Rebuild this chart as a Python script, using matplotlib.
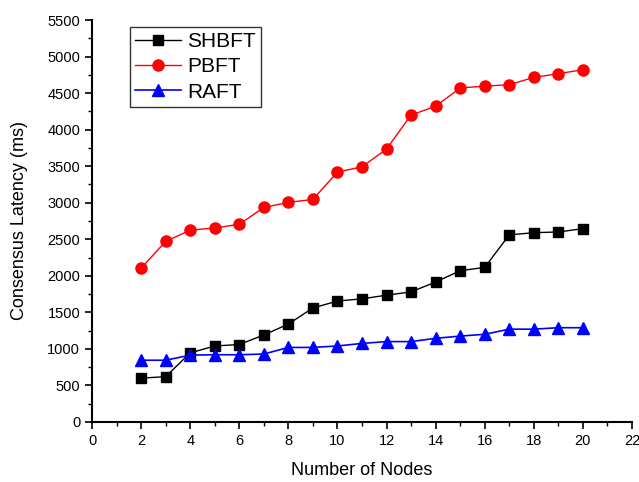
import matplotlib
matplotlib.use('Agg')
import matplotlib.pyplot as plt
from matplotlib.ticker import MultipleLocator

plt.rcParams['font.family'] = ['Liberation Sans', 'DejaVu Sans']

nodes = [2, 3, 4, 5, 6, 7, 8, 9, 10, 11, 12, 13, 14, 15, 16, 17, 18, 19, 20]
shbft = [600, 620, 945, 1040, 1060, 1190, 1340, 1560, 1655, 1685, 1735, 1780, 1915, 2070, 2115, 2560, 2590, 2600, 2645]
pbft = [2105, 2470, 2625, 2655, 2705, 2935, 3005, 3045, 3420, 3490, 3735, 4200, 4320, 4570, 4595, 4615, 4715, 4765, 4820]
raft = [845, 845, 915, 920, 920, 930, 1020, 1020, 1040, 1075, 1100, 1100, 1145, 1175, 1200, 1270, 1270, 1290, 1290]

fig = plt.figure(figsize=(6.39, 4.82), dpi=100)
ax = fig.add_axes([0.144, 0.1245, 0.845, 0.834])

ax.plot(nodes, shbft, color='black', marker='s', markersize=6.5, linewidth=1, label='SHBFT')
ax.plot(nodes, pbft, color='red', marker='o', markersize=8, linewidth=1, label='PBFT')
ax.plot(nodes, raft, color='blue', marker='^', markersize=8, linewidth=1.2, label='RAFT')

ax.set_xlim(0, 22)
ax.set_ylim(0, 5500)
ax.xaxis.set_major_locator(MultipleLocator(2))
ax.xaxis.set_minor_locator(MultipleLocator(1))
ax.yaxis.set_major_locator(MultipleLocator(500))
ax.yaxis.set_minor_locator(MultipleLocator(250))
ax.spines['top'].set_visible(False)
ax.spines['right'].set_visible(False)
ax.spines['left'].set_linewidth(1.5)
ax.spines['bottom'].set_linewidth(1.5)
ax.tick_params(axis='both', which='major', direction='out', length=5, width=1.2, labelsize=10.5)
ax.tick_params(axis='both', which='minor', direction='out', length=3, width=1)

ax.set_xlabel('Number of Nodes', fontsize=13, labelpad=10)
ax.set_ylabel('Consensus Latency (ms)', fontsize=13, labelpad=14)

leg = ax.legend(loc='upper left', bbox_to_anchor=(0.0704, 0.9826), fontsize=15, frameon=True,
                fancybox=False, edgecolor='black', handlelength=2.2, borderpad=0.25,
                labelspacing=0.3, handletextpad=0.3, borderaxespad=0)
leg.get_frame().set_linewidth(1)

fig.savefig('out.png', dpi=100)
